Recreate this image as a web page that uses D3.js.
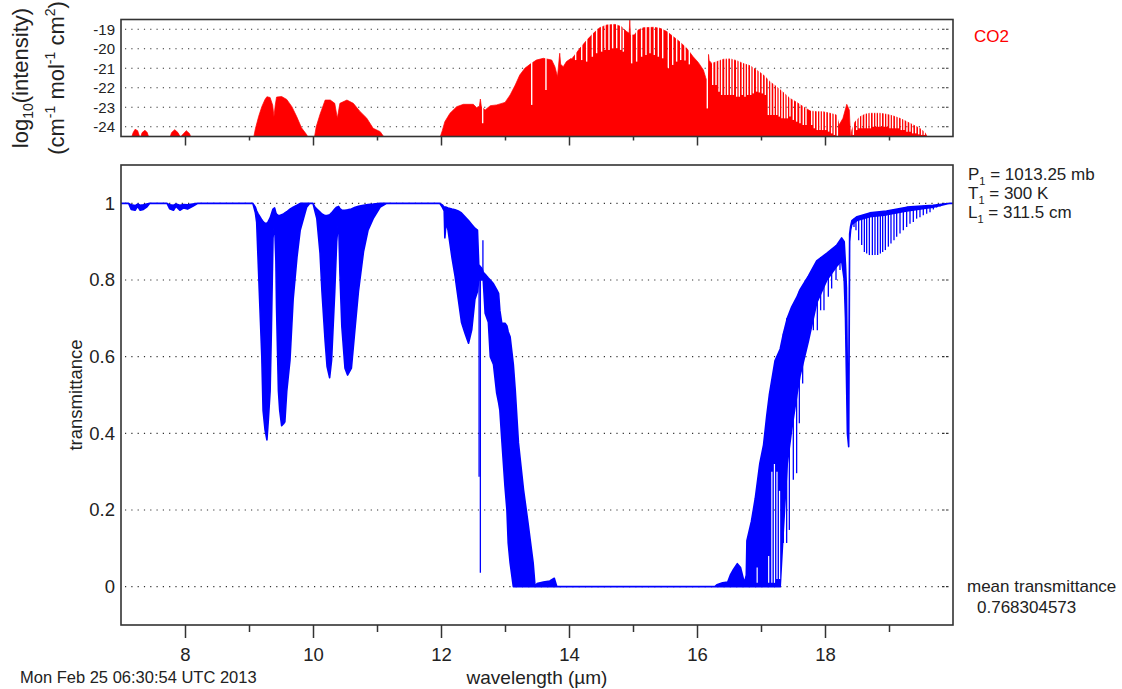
<!DOCTYPE html>
<html><head><meta charset="utf-8">
<script src="https://cdn.jsdelivr.net/npm/d3@7"></script>
<style>
body{margin:0;background:#fff}
svg text{font-family:"Liberation Sans",Arial,Helvetica,sans-serif}
</style></head><body>
<svg id="chart" width="1122" height="689"></svg>
<script>
// ---------------- data ----------------
const xDomain = [7, 20];
const co2Domain = [-24.5, -18.5];
const transDomain = [-0.1, 1.1];
const co2Ticks = [-19, -20, -21, -22, -23, -24];
const transTicks = [0, 0.2, 0.4, 0.6, 0.8, 1];
const xMajor = [8, 10, 12, 14, 16, 18];
const xMinor = [9, 11, 13, 15, 17, 19];

// CO2 line intensity envelope (log10)
const co2Wl = [
  7.00,7.16,7.19,7.22,7.26,7.29,7.31,7.33,7.375,7.41,7.44,
  7.76,7.79,7.84,7.89,7.93,7.95,8.02,8.07,8.10,
  9.07,9.10,9.15,9.20,9.25,9.28,9.33,9.37,9.39,9.41,9.43,9.51,9.59,9.67,9.745,9.82,9.90,9.93,
  10.02,10.05,10.11,10.19,10.27,10.34,10.38,10.42,10.53,10.63,10.73,10.84,10.94,11.05,11.125,
  11.98,12.02,12.06,12.14,12.245,12.35,12.505,12.557,12.60,12.615,
  12.63,12.69,12.77,12.87,13.00,13.08,13.16,13.23,13.31,13.39,
  13.49,13.60,13.73,13.78,13.82,13.855,13.87,13.91,13.96,14.07,
  14.17,14.28,14.38,14.48,14.59,14.72,14.82,14.90,14.94,14.95,
  14.96,15.02,15.08,15.16,15.32,15.42,15.53,15.63,15.73,15.84,
  15.94,16.02,16.10,16.14,16.17,16.18,16.19,16.23,16.31,16.41,
  16.52,16.62,16.72,16.83,16.93,17.04,17.14,17.24,17.35,17.45,
  17.56,17.66,17.77,17.87,17.97,18.08,18.18,18.22,18.28,18.34,
  18.38,18.40,
  18.42,18.47,18.55,18.625,18.70,18.86,18.96,19.07,19.17,19.28,19.38,19.48,19.56,19.61,20.00
];
const co2Log = [
  -24.6,-24.6,-24.3,-24.13,-24.2,-24.5,-24.5,-24.3,-24.18,-24.3,-24.6,
  -24.6,-24.3,-24.15,-24.3,-24.55,-24.45,-24.2,-24.35,-24.6,
  -24.6,-24.1,-23.48,-22.97,-22.6,-22.46,-22.5,-22.9,-23.48,-22.9,-22.48,-22.45,-22.6,-22.97,-23.48,-24.05,-24.4,-24.6,
  -24.6,-24.0,-23.36,-22.63,-22.63,-22.8,-23.56,-22.8,-22.63,-22.8,-23.2,-23.56,-24.08,-24.25,-24.6,
  -24.6,-24.2,-23.74,-23.31,-22.97,-22.85,-22.85,-23.02,-22.95,-22.58,
  -22.95,-23.14,-22.92,-22.88,-22.75,-22.37,-21.86,-21.35,-21.0,-20.8,
  -20.58,-20.49,-20.58,-20.92,-21.43,-20.23,-20.8,-20.92,-20.66,-20.41,
  -19.98,-19.55,-19.21,-18.92,-18.78,-18.75,-18.87,-19.12,-19.2,-18.53,
  -19.3,-19.29,-19.04,-18.92,-18.9,-18.95,-19.12,-19.38,-19.64,-19.98,
  -20.41,-20.7,-21.09,-21.52,-21.6,-20.29,-20.6,-20.75,-20.66,-20.54,
  -20.52,-20.61,-20.75,-20.87,-21.09,-21.35,-21.69,-21.94,-22.24,-22.54,
  -22.75,-22.97,-23.19,-23.23,-23.23,-23.31,-23.40,-23.91,-23.57,-22.85,
  -23.14,-24.6,
  -24.17,-23.74,-23.48,-23.36,-23.31,-23.31,-23.36,-23.45,-23.57,-23.74,-23.91,-24.08,-24.29,-24.6,-24.6
];
// white gaps between CO2 lines (wavelength, lowest log10 reached by the gap)
const co2GapWl = [
  12.651,13.417,13.640,
  14.042,14.104,14.198,14.276,14.365,14.432,14.510,14.5625,14.625,14.682,14.745,14.807,14.849,
  14.979,15.057,15.135,15.203,15.266,15.333,15.396,15.464,15.552,15.620,15.682,15.745,15.8125,15.880,
  16.161,16.245,16.297,16.344,16.385,16.437,16.479,16.526,16.568,16.620,16.661,16.708,16.750,16.792,16.839,16.880,16.932,16.974,17.021,17.068,
  17.115,17.156,17.203,17.245,17.286,17.328,17.370,17.411,17.453,17.505,17.557,17.609,17.661,17.703,17.792,17.833,17.880,17.922,17.963,18.010,18.057,18.104,18.146,18.193,
  18.443,18.495,18.536,18.578,18.625,18.667,18.708,18.755,18.797,18.839,18.880,18.927,18.969,19.016,19.057,19.104,19.146,19.193,19.234,19.281,19.328,19.370,19.417,19.464,19.510,19.552
];
const co2GapLog = [
  -23.82,-22.88,-22.12,
  -20.49,-20.58,-20.58,-20.66,-20.41,-20.23,-20.15,-20.06,-20.06,-19.98,-19.98,-20.06,-20.15,
  -20.75,-20.66,-20.41,-20.32,-20.23,-20.32,-20.41,-20.49,-21.0,-20.83,-20.66,-20.58,-20.6,-20.8,
  -23.06,-21.86,-21.86,-22.2,-22.37,-22.37,-22.37,-22.37,-22.37,-22.46,-22.46,-22.37,-22.46,-22.37,-22.37,-22.29,-22.2,-22.24,-22.29,-22.37,
  -23.40,-23.40,-23.40,-23.40,-23.48,-23.57,-23.57,-23.57,-23.48,-23.65,-23.74,-23.82,-23.91,-23.91,-23.91,-24.08,-24.17,-24.17,-24.17,-24.17,-24.25,-24.34,-24.42,-24.51,
  -24.42,-24.17,-24.08,-24.08,-24.08,-24.08,-24.08,-24.0,-24.0,-24.0,-24.0,-24.0,-24.0,-24.08,-24.08,-24.08,-24.08,-24.17,-24.17,-24.25,-24.25,-24.34,-24.34,-24.39,-24.42,-24.42
];

// transmittance envelope: wavelength, upper and lower edge of the dense band
const transWl = [
  7.00,7.12,7.16,7.22,7.26,7.30,7.35,7.40,7.45,7.72,7.76,7.82,7.86,7.92,7.98,8.04,8.12,8.20,
  9.06,9.10,9.12,9.145,9.17, 9.20,9.22,9.25,9.28,9.30, 9.33,9.35,9.375,9.40,9.42, 9.43,9.46,9.48,9.51,9.54, 9.56,9.59,9.64,9.69,9.75, 9.80,9.85,9.90,9.95,
  10.00,10.03,10.06,10.11,10.14, 10.19,10.22,10.26,10.29,10.34, 10.37,10.40,10.42,10.45,10.50, 10.54,10.60,10.66,10.71,10.79, 10.86,10.94,11.05,11.15,
  11.98,12.02,12.05,12.06,12.08, 12.11,12.17,12.22,12.27,12.32, 12.375,12.43,12.48,12.53,12.57, 12.59,12.64,12.66,12.69,12.74,
  12.77,12.82,12.87,12.90,12.92, 12.95,13.00,13.03,13.05,13.08, 13.13,13.16,13.21,13.29,13.36, 13.44,13.47,13.50,13.60,13.70, 13.77,13.81,
  16.28,16.31,16.40,16.48,16.52, 16.57,16.63,16.68,16.71,16.74, 16.77,16.78,16.85,16.91,16.98, 17.04,17.09,17.13,17.22,17.30,
  17.35,17.41,17.48,17.56,17.61, 17.74,17.87,18.03,18.18,18.26, 18.30,18.32,18.335,18.35,18.37, 18.385,18.40,18.42,18.50,18.70, 18.96,19.28,19.69,19.95,20.00
];
const transUp = [
  1,1,0.996,0.994,0.998,0.995,0.996,0.998,1,1,0.996,0.995,0.998,0.995,0.997,0.996,0.998,1,
  1,0.99,0.98,0.972,0.965, 0.957,0.952,0.948,0.948,0.952, 0.962,0.972,0.985,0.988,0.975, 0.972,0.968,0.968,0.97,0.972, 0.975,0.978,0.985,0.99,0.995, 1,1,1,1,
  1,0.99,0.985,0.977,0.972, 0.968,0.968,0.97,0.975,0.985, 0.99,0.992,0.986,0.982,0.982, 0.983,0.985,0.99,0.992,0.995, 0.997,0.998,1,1,
  1,0.996,0.99,0.99,0.99, 0.988,0.985,0.983,0.98,0.975, 0.965,0.955,0.945,0.935,0.93, 0.84,0.83,0.82,0.815,0.805,
  0.80,0.79,0.775,0.765,0.72, 0.687,0.687,0.68,0.665,0.652, 0.58,0.513,0.375,0.252,0.166, 0.062,0,0.008,0.012,0.015, 0.022,0,
  0,0.005,0.01,0.012,0.03, 0.045,0.06,0.05,0.03,0.01, 0.03,0.12,0.17,0.23,0.32, 0.37,0.446,0.50,0.59,0.62,
  0.66,0.70,0.73,0.755,0.775, 0.81,0.85,0.87,0.89,0.91, 0.90,0.84,0.78,0.55,0.50, 0.92,0.94,0.955,0.965,0.975, 0.98,0.99,0.995,1,1
];
const transLo = [
  1,1,0.984,0.982,0.992,0.982,0.984,0.99,1,1,0.986,0.982,0.992,0.982,0.988,0.985,0.992,1,
  1,0.975,0.95,0.84,0.73, 0.60,0.46,0.41,0.383,0.43, 0.51,0.67,0.91,0.95,0.85, 0.73,0.51,0.46,0.42,0.425, 0.43,0.51,0.59,0.75,0.86, 0.93,0.96,0.99,1,
  1,0.98,0.96,0.87,0.77, 0.64,0.574,0.545,0.59,0.77, 0.90,0.96,0.82,0.68,0.57, 0.552,0.57,0.68,0.77,0.875, 0.93,0.96,0.99,1,
  1,0.99,0.98,0.91,0.95, 0.93,0.86,0.81,0.75,0.69, 0.661,0.635,0.67,0.75,0.77, 0.80,0.80,0.80,0.713,0.69,
  0.60,0.58,0.505,0.48,0.46, 0.383,0.261,0.20,0.114,0.062, 0,0,0,0,0, 0,0,0,0,0, 0,0,
  0,0,0,0,0, 0,0,0,0,0, 0,0,0,0,0, 0,0,0,0,0,
  0.15,0.32,0.41,0.50,0.55, 0.64,0.74,0.80,0.835,0.85, 0.80,0.70,0.55,0.40,0.365, 0.90,0.93,0.945,0.955,0.965, 0.97,0.98,0.99,1,1
];
// individual absorption lines reaching below the dense band
const lineWl = [12.595,12.615,12.655,
  17.349,17.401,17.443,17.505,17.557,17.599,17.651,17.693,17.740,17.818,17.880,17.932,17.984,18.052,18.104,18.172,18.234,
  18.417,18.453,18.484,18.526,18.573,18.615,18.651,18.693,18.740,18.781,18.823,18.865,18.901,18.943,18.990,
  19.031,19.078,19.120,19.172,19.224,19.276,19.328,19.380,19.432,19.484,19.536,19.589,19.641,19.693,19.745,19.797];
const lineTop = [0.83,0.83,0.904,
  0.66,0.70,0.71,0.73,0.75,0.77,0.78,0.80,0.81,0.83,0.85,0.86,0.865,0.87,0.88,0.89,0.90,
  0.95,0.96,0.962,0.965,0.967,0.968,0.97,0.972,0.973,0.975,0.976,0.977,0.978,0.979,0.98,
  0.982,0.984,0.985,0.986,0.988,0.99,0.99,0.991,0.992,0.993,0.994,0.995,0.995,0.996,0.997,0.998];
const lineBot = [0.287,0.036,0.80,
  0.114,0.114,0.148,0.279,0.296,0.426,0.530,0.608,0.643,0.669,0.669,0.721,0.721,0.756,0.778,0.80,0.826,
  0.947,0.938,0.930,0.904,0.891,0.873,0.869,0.865,0.865,0.865,0.865,0.869,0.873,0.878,0.887,
  0.895,0.904,0.913,0.921,0.930,0.938,0.947,0.951,0.960,0.964,0.969,0.973,0.977,0.984,0.989,0.992];
// white gaps inside the dense band
const gapWl = [16.94,17.12,17.17,17.21,17.25,17.29];
const gapTop = [0.05,0.08,0.30,0.32,0.30,0.25];
const gapBot = [0.01,0.01,0.01,0.01,0.02,0.02];

// ---------------- drawing ----------------
const svg = d3.select("#chart");
const W = 1122, H = 689;
const X0 = 121, X1 = 953;
const T0 = 19.5, T1 = 136.5;   // top panel
const M0 = 165, M1 = 625;      // main panel
const FRAME = "#333", TXT = "#222";

const x = d3.scaleLinear().domain(xDomain).range([X0, X1]);
const yC = d3.scaleLinear().domain(co2Domain).range([T1, T0]);
const yT = d3.scaleLinear().domain(transDomain).range([M1, M0]);

const defs = svg.append("defs");
defs.append("clipPath").attr("id", "clipTop").append("rect")
  .attr("x", X0).attr("y", T0).attr("width", X1 - X0).attr("height", T1 - T0);
defs.append("clipPath").attr("id", "clipMain").append("rect")
  .attr("x", X0).attr("y", M0).attr("width", X1 - X0).attr("height", M1 - M0);

// gap masks
const co2Gaps = co2GapWl.map((w, i) => ({w, v: co2GapLog[i]}));
const mTop = defs.append("mask").attr("id", "maskTop")
  .attr("maskUnits", "userSpaceOnUse").attr("maskContentUnits", "userSpaceOnUse")
  .attr("x", 0).attr("y", 0).attr("width", W).attr("height", H);
mTop.append("rect").attr("width", W).attr("height", H).attr("fill", "white");
mTop.selectAll("line").data(co2Gaps).join("line")
  .attr("x1", d => x(d.w)).attr("x2", d => x(d.w))
  .attr("y1", T0 - 2).attr("y2", d => yC(d.v))
  .attr("stroke", "black").attr("stroke-width", 1.4);

const tGaps = gapWl.map((w, i) => ({w, t: gapTop[i], b: gapBot[i]}));
const mMain = defs.append("mask").attr("id", "maskMain")
  .attr("maskUnits", "userSpaceOnUse").attr("maskContentUnits", "userSpaceOnUse")
  .attr("x", 0).attr("y", 0).attr("width", W).attr("height", H);
mMain.append("rect").attr("width", W).attr("height", H).attr("fill", "white");
mMain.selectAll("line").data(tGaps).join("line")
  .attr("x1", d => x(d.w)).attr("x2", d => x(d.w))
  .attr("y1", d => yT(d.t)).attr("y2", d => yT(d.b))
  .attr("stroke", "black").attr("stroke-width", 1.2);

function drawGrid(g, ticks, y) {
  g.selectAll("line.grid").data(ticks).join("line").attr("class", "grid")
    .attr("x1", X0 + 4).attr("x2", X1 - 13)
    .attr("y1", d => y(d)).attr("y2", d => y(d))
    .attr("stroke", "#333").attr("stroke-width", 1.2).attr("stroke-dasharray", "1.2,5.1");
  g.selectAll("line.rt").data(ticks).join("line").attr("class", "rt")
    .attr("x1", X1 - 11).attr("x2", X1 - 4)
    .attr("y1", d => y(d)).attr("y2", d => y(d))
    .attr("stroke", "#333").attr("stroke-width", 1.2).attr("stroke-dasharray", "2.5,1.5");
}

// ---- top panel ----
const gTop = svg.append("g");
drawGrid(gTop, co2Ticks, yC);
const co2Data = co2Wl.map((w, i) => ({w, v: co2Log[i]}));
gTop.append("g").attr("clip-path", "url(#clipTop)")
  .append("path").datum(co2Data)
  .attr("mask", "url(#maskTop)")
  .attr("d", d3.area().x(d => x(d.w)).y0(yC(-24.7)).y1(d => yC(d.v)))
  .attr("fill", "#ff0000").attr("stroke", "#ff0000").attr("stroke-width", 0.7);
gTop.append("rect").attr("x", X0).attr("y", T0).attr("width", X1 - X0).attr("height", T1 - T0)
  .attr("fill", "none").attr("stroke", FRAME).attr("stroke-width", 1.6);

function styleAxis(g, size) {
  g.select(".domain").remove();
  g.style("color", TXT).attr("font-family", null).attr("font-size", null);
  g.selectAll(".tick line").attr("stroke", FRAME).attr("stroke-width", 1.5);
  g.selectAll("text").style("font-size", size + "px").attr("fill", TXT);
}
gTop.append("g").attr("transform", `translate(0,${T1})`)
  .call(d3.axisBottom(x).tickValues(xMajor).tickSize(9).tickFormat(""))
  .call(g => styleAxis(g, 15));
gTop.append("g").attr("transform", `translate(0,${T1})`)
  .call(d3.axisBottom(x).tickValues(xMinor).tickSize(4).tickFormat(""))
  .call(g => styleAxis(g, 15));
gTop.append("g").attr("transform", `translate(${X0},0)`)
  .call(d3.axisLeft(yC).tickValues(co2Ticks).tickSize(0).tickPadding(6).tickFormat(d => String(d)))
  .call(g => styleAxis(g, 15));

// y label of top panel
const lab1 = svg.append("text").attr("transform", `translate(28,78) rotate(-90)`)
  .attr("text-anchor", "middle").style("font-size", "22px").attr("fill", TXT);
lab1.append("tspan").text("log");
lab1.append("tspan").text("10").style("font-size", "14px").attr("dy", 5);
lab1.append("tspan").text("(intensity)").attr("dy", -5);
const lab2 = svg.append("text").attr("transform", `translate(64,78) rotate(-90)`)
  .attr("text-anchor", "middle").style("font-size", "22px").attr("fill", TXT);
lab2.append("tspan").text("(cm");
lab2.append("tspan").text("-1").style("font-size", "14px").attr("dy", -9);
lab2.append("tspan").text(" mol").attr("dy", 9);
lab2.append("tspan").text("-1").style("font-size", "14px").attr("dy", -9);
lab2.append("tspan").text(" cm").attr("dy", 9);
lab2.append("tspan").text("2").style("font-size", "14px").attr("dy", -9);
lab2.append("tspan").text(")").attr("dy", 9);

svg.append("text").attr("x", 974).attr("y", 42).text("CO2")
  .style("font-size", "17px").attr("fill", "#ff0000");

// ---- main panel ----
const gMain = svg.append("g");
drawGrid(gMain, transTicks, yT);
const transData = transWl.map((w, i) => ({w, up: transUp[i], lo: transLo[i]}));
const clipM = gMain.append("g").attr("clip-path", "url(#clipMain)");
clipM.append("path").datum(transData)
  .attr("mask", "url(#maskMain)")
  .attr("d", d3.area().x(d => x(d.w)).y0(d => yT(d.lo)).y1(d => yT(d.up)))
  .attr("fill", "#0000ff").attr("stroke", "#0000ff").attr("stroke-width", 1.6)
  .attr("stroke-linejoin", "round");
const lines = lineWl.map((w, i) => ({w, t: lineTop[i], b: lineBot[i]}));
clipM.selectAll("line.abs").data(lines).join("line").attr("class", "abs")
  .attr("x1", d => x(d.w)).attr("x2", d => x(d.w))
  .attr("y1", d => yT(d.t)).attr("y2", d => yT(d.b))
  .attr("stroke", "#0000ff").attr("stroke-width", 1.3);
gMain.append("rect").attr("x", X0).attr("y", M0).attr("width", X1 - X0).attr("height", M1 - M0)
  .attr("fill", "none").attr("stroke", FRAME).attr("stroke-width", 1.6);

gMain.append("g").attr("transform", `translate(0,${M1})`)
  .call(d3.axisBottom(x).tickValues(xMajor).tickSize(13).tickPadding(10).tickFormat(d => String(d)))
  .call(g => styleAxis(g, 18.5));
gMain.append("g").attr("transform", `translate(0,${M1})`)
  .call(d3.axisBottom(x).tickValues(xMinor).tickSize(7).tickFormat(""))
  .call(g => styleAxis(g, 18.5));
gMain.append("g").attr("transform", `translate(${X0},0)`)
  .call(d3.axisLeft(yT).tickValues(transTicks).tickSize(0).tickPadding(6).tickFormat(d => String(d)))
  .call(g => styleAxis(g, 18.5));

svg.append("text").attr("transform", `translate(82,${(M0 + M1) / 2}) rotate(-90)`)
  .attr("text-anchor", "middle").style("font-size", "18.5px").attr("fill", TXT).text("transmittance");
svg.append("text").attr("x", (X0 + X1) / 2).attr("y", 684).attr("text-anchor", "middle")
  .style("font-size", "19px").attr("fill", TXT).text("wavelength (\u00b5m)");

// conditions
const cond = [["P", " = 1013.25 mb"], ["T", " = 300 K"], ["L", " = 311.5 cm"]];
cond.forEach((c, i) => {
  const t = svg.append("text").attr("x", 968).attr("y", 180 + i * 19)
    .style("font-size", "17px").attr("fill", TXT);
  t.append("tspan").text(c[0]);
  t.append("tspan").text("1").style("font-size", "11px").attr("dy", 5);
  t.append("tspan").text(c[1]).attr("dy", -5);
});
svg.append("text").attr("x", 967).attr("y", 592).style("font-size", "17px").attr("fill", TXT)
  .text("mean transmittance");
svg.append("text").attr("x", 977).attr("y", 613).style("font-size", "17px").attr("fill", TXT)
  .text("0.768304573");
svg.append("text").attr("x", 20).attr("y", 683).style("font-size", "16.5px").attr("fill", TXT)
  .text("Mon Feb 25 06:30:54 UTC 2013");
</script>
</body></html>
